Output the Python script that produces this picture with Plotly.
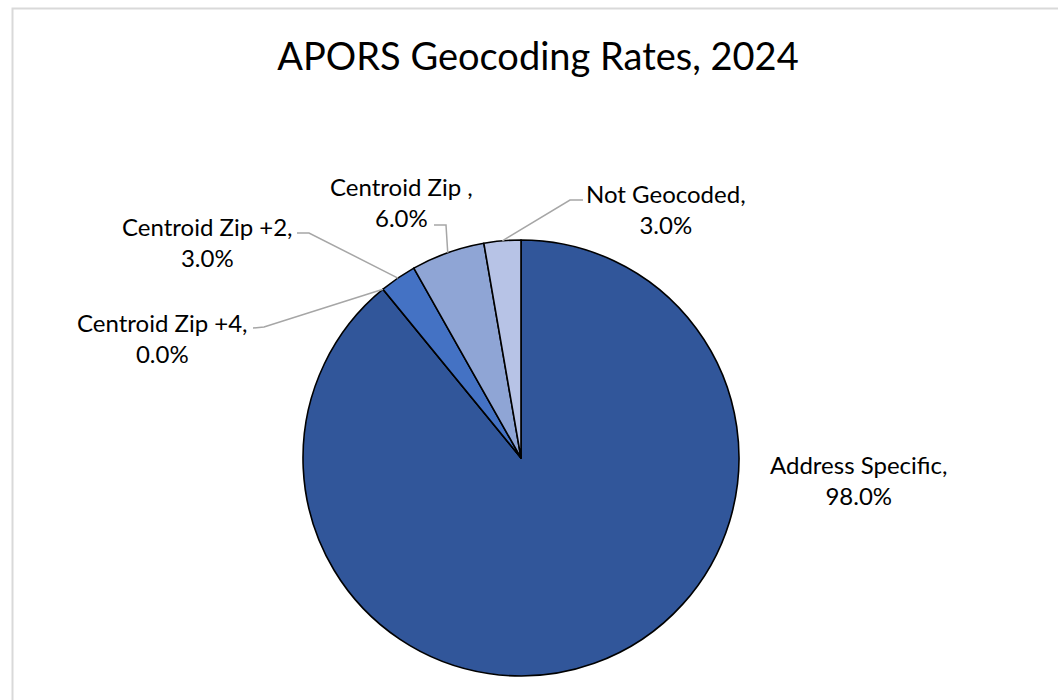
import numpy as np
import plotly.graph_objects as go

# Geocoding outcome categories and their reported rates (%)
categories = ["Address Specific", "Centroid Zip +4", "Centroid Zip +2", "Centroid Zip ", "Not Geocoded"]
rates = [98.0, 0.0, 3.0, 6.0, 3.0]
colors = ["#31569A", "#2F5597", "#4472C4", "#8FA5D5", "#B7C3E6"]

W, H = 1058, 700
CX, CY, R = 521, 458, 218  # pie centre / radius in pixels

FONT = "Lato"

fig = go.Figure(
    go.Pie(
        labels=categories,
        values=rates,
        sort=False,
        direction="clockwise",
        rotation=0,
        marker=dict(colors=colors, line=dict(color="#000000", width=1.6)),
        textinfo="none",
        hoverinfo="label+value",
        showlegend=False,
        domain=dict(x=[(CX - R) / W, (CX + R) / W], y=[(H - CY - R) / H, (H - CY + R) / H]),
    )
)


def px(x, y):
    """pixel -> paper coordinates"""
    return x / W, 1 - y / H


# slice mid-angles (clockwise from 12 o'clock) derived from the values
vals = np.array(rates)
frac = vals / vals.sum()
ends = np.cumsum(frac) * 2 * np.pi
starts = ends - frac * 2 * np.pi
mids = (starts + ends) / 2

# label block centres and leader-line elbows (pixels)
label_pos = {
    "Address Specific": (858, 480),
    "Centroid Zip +4": (162, 338),
    "Centroid Zip +2": (207, 242),
    "Centroid Zip ": (401, 202),
    "Not Geocoded": (666, 209),
}
leaders = {
    "Centroid Zip +4": [(253, 328), (264, 327)],
    "Centroid Zip +2": [(297, 233), (309, 233)],
    "Centroid Zip ": [(434, 225), (446, 225)],
    "Not Geocoded": [(583, 200), (570, 200)],
}

annotations = []
shapes = []
for i, (cat, val) in enumerate(zip(categories, rates)):
    lx, ly = label_pos[cat]
    ax, ay = px(lx, ly)
    annotations.append(
        dict(
            x=ax, y=ay, xref="paper", yref="paper",
            text=f"{cat},<br>{val:.1f}%",
            showarrow=False, xanchor="center", yanchor="middle",
            align="center",
            font=dict(family=FONT, size=24, color="#000000"),
        )
    )
    if cat in leaders:
        ex = CX + R * np.sin(mids[i])
        ey = CY - R * np.cos(mids[i])
        pts = leaders[cat] + [(ex, ey)]
        path = "M " + " L ".join(f"{px(x, y)[0]:.5f},{px(x, y)[1]:.5f}" for x, y in pts)
        shapes.append(
            dict(type="path", xref="paper", yref="paper", path=path,
                 line=dict(color="#A6A6A6", width=1.5))
        )

# chart frame
shapes.append(
    dict(type="rect", xref="paper", yref="paper",
         x0=12.5 / W, y0=-0.02, x1=1.02, y1=1 - 8.5 / H,
         line=dict(color="#D9D9D9", width=2), fillcolor="rgba(0,0,0,0)", layer="below")
)

fig.update_layout(
    width=W,
    height=H,
    margin=dict(l=0, r=0, t=0, b=0),
    paper_bgcolor="#FFFFFF",
    plot_bgcolor="#FFFFFF",
    title=dict(
        text="APORS Geocoding Rates, 2024",
        x=538 / W, y=1 - 57 / H, xanchor="center", yanchor="middle",
        font=dict(family=FONT, size=38, color="#000000"),
    ),
    annotations=annotations,
    shapes=shapes,
)

fig.write_html("out.html")
